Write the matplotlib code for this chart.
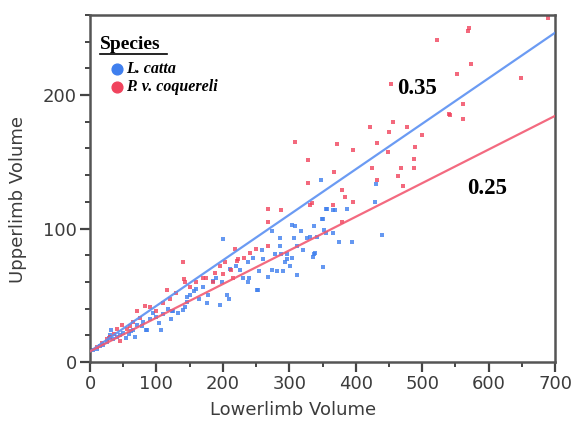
import matplotlib
matplotlib.use('Agg')
import matplotlib.pyplot as plt
import numpy as np
from matplotlib.ticker import MultipleLocator

# --- data ---
red_x = [690, 569, 571, 522, 573, 552, 649, 453, 561, 540, 561, 456, 477, 500, 489, 488,
         488, 468, 464, 471, 542,
         309, 328, 372, 396, 421, 450, 432, 449, 367, 425, 328, 379, 384, 396, 366, 432,
         334, 379, 331,
         268, 288, 268, 218, 268, 203, 221, 188, 175, 185, 212, 215, 223, 140, 141, 143,
         116, 129, 71, 83, 90, 48, 41, 45,
         10, 18, 25, 30, 36, 55, 60, 64, 75, 100, 110, 121, 150, 160, 170, 196, 200, 232,
         241, 250]
red_y = [258, 248, 250, 241, 223, 216, 213, 208, 193, 186, 182, 180, 176, 170, 161, 152,
         145, 145, 139, 132, 185,
         165, 151, 163, 159, 176, 172, 164, 157, 142, 145, 134, 129, 124, 120, 118, 136,
         119, 105, 118,
         115, 114, 105, 85, 87, 75, 76, 67, 63, 60, 69, 63, 77, 75, 62, 60,
         54, 52, 38, 42, 41, 28, 25, 16,
         11, 14, 17, 19, 21, 25, 27, 30, 33, 38, 44, 47, 56, 60, 63, 72, 66, 78,
         82, 85]

blue_x = [348, 429, 430, 357, 366, 369, 387, 351, 309, 337, 318, 352, 355, 366, 307, 327,
          331, 342, 375, 394, 440, 312, 321, 337, 336, 304, 351, 312, 301, 304, 355, 349,
          339, 294,
          200, 274, 286, 259, 279, 288, 297, 286, 297, 238, 226, 230, 239, 254, 274, 281,
          290, 268, 199, 206, 209, 253, 164, 157, 178, 196, 146, 140, 146, 95, 104, 107,
          122, 132, 143, 32, 30, 62, 84, 68, 54, 176, 123, 86, 251, 238,
          5, 10, 15, 20, 25, 28, 35, 40, 45, 50, 58, 65, 70, 78, 80, 90, 100, 110, 118,
          125, 150, 160, 170, 185, 190, 210, 220, 245, 260]
blue_y = [136, 120, 133, 115, 114, 114, 115, 107, 102, 102, 98, 99, 97, 97, 93, 93,
          94, 94, 90, 90, 95, 87, 84, 81, 79, 78, 71, 65, 72, 103, 115, 107,
          82, 75,
          92, 98, 93, 84, 81, 81, 81, 87, 77, 75, 69, 63, 63, 68, 69, 68,
          68, 64, 60, 50, 47, 54, 47, 53, 50, 43, 45, 39, 49, 37, 29, 24,
          32, 37, 41, 24, 20, 23, 24, 19, 18, 44, 38, 24, 54, 60,
          9, 10, 12, 13, 15, 18, 17, 19, 20, 22, 21, 24, 28, 27, 30, 32, 34, 36, 40,
          38, 50, 55, 56, 61, 63, 70, 72, 78, 77]

# fitted lines (intercept, slope) and their labels
blue_fit = (8, 0.341)
red_fit = (8, 0.252)
line_x = np.array([0, 700])

blue_pt = '#3f7fee'
red_pt = '#f0435d'
blue_ln = '#5b90f2'
red_ln = '#f25a72'
grey = '#3c3c3c'

fig = plt.figure(figsize=(5.72, 4.25), dpi=100)
ax = fig.add_axes([90 / 572, 63 / 425, 465 / 572, 347 / 425])

ax.scatter(blue_x, blue_y, s=10, marker='s', color=blue_pt, alpha=0.8, linewidths=0, zorder=2)
ax.scatter(red_x, red_y, s=10, marker='s', color=red_pt, alpha=0.8, linewidths=0, zorder=2)
ax.plot(line_x, blue_fit[0] + blue_fit[1] * line_x, color=blue_ln, lw=1.6, alpha=0.9, zorder=3)
ax.plot(line_x, red_fit[0] + red_fit[1] * line_x, color=red_ln, lw=1.6, alpha=0.9, zorder=3)

ax.text(462, 205, '0.35', family='Liberation Serif', weight='bold', fontsize=16.5,
        va='center', ha='left', color='black')
ax.text(568, 130, '0.25', family='Liberation Serif', weight='bold', fontsize=16.5,
        va='center', ha='left', color='black')

# --- legend, drawn by hand ---
ax.text(0.0215, 0.916, 'Species', transform=ax.transAxes, family='Liberation Serif',
        weight='bold', fontsize=14, va='center', ha='left')
ax.plot([0.0215, 0.165], [0.889, 0.889], transform=ax.transAxes, color='black', lw=1.2)
ax.scatter([0.058], [0.844], transform=ax.transAxes, s=60, color=blue_pt, zorder=4)
ax.scatter([0.058], [0.793], transform=ax.transAxes, s=60, color=red_pt, zorder=4)
ax.text(0.078, 0.844, 'L. catta', transform=ax.transAxes, family='Liberation Serif',
        weight='bold', style='italic', fontsize=11.5, va='center', ha='left')
ax.text(0.078, 0.793, 'P. v. coquereli', transform=ax.transAxes, family='Liberation Serif',
        weight='bold', style='italic', fontsize=11.5, va='center', ha='left')

ax.set_xlim(0, 700)
ax.set_ylim(0, 260)
ax.xaxis.set_major_locator(MultipleLocator(100))
ax.xaxis.set_minor_locator(MultipleLocator(50))
ax.yaxis.set_major_locator(MultipleLocator(100))
ax.yaxis.set_minor_locator(MultipleLocator(20))
ax.tick_params(which='major', direction='out', length=7.5, width=1.6, color='#444444',
               labelsize=13, labelcolor=grey, pad=2)
ax.tick_params(which='minor', direction='out', length=3.5, width=1.4, color='#444444')
for s in ax.spines.values():
    s.set_color('#555555')
    s.set_linewidth(1.8)

ax.set_xlabel('Lowerlimb Volume', fontsize=13, color=grey)
ax.set_ylabel('Upperlimb Volume', fontsize=13, color=grey)
ax.xaxis.set_label_coords(0.437, -0.112)
ax.yaxis.set_label_coords(-0.135, 0.467)

fig.savefig('out.png', dpi=100)
